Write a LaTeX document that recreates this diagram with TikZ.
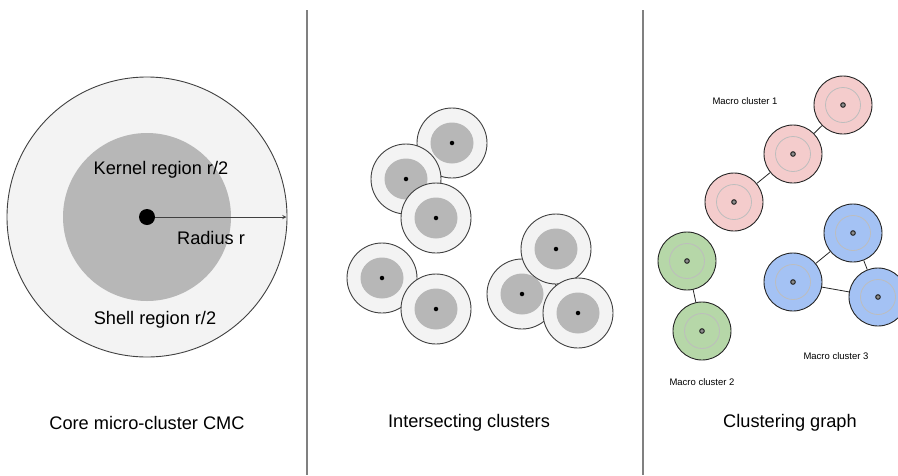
\documentclass[tikz,border=0pt]{standalone}
\usepackage{fontspec}
\setmainfont{Liberation Sans}
\usetikzlibrary{arrows,positioning,calc}

\definecolor{shellfill}{HTML}{F3F3F3}
\definecolor{kernelfill}{HTML}{B7B7B7}
\definecolor{rimline}{HTML}{404040}
\definecolor{sepline}{HTML}{808080}
\definecolor{pinkfill}{HTML}{F4CCCC}
\definecolor{greenfill}{HTML}{B6D7A8}
\definecolor{bluefill}{HTML}{A4C2F4}
\definecolor{ringgray}{HTML}{BDBDBD}

\tikzset{
  bigshell/.style={circle, draw=rimline, fill=shellfill, line width=0.9pt, minimum size=280pt, inner sep=0pt},
  bigkernel/.style={circle, fill=kernelfill, minimum size=168pt, inner sep=0pt},
  bigdot/.style={circle, fill=black, minimum size=16pt, inner sep=0pt},
  shellc/.style={circle, draw=rimline, fill=shellfill, line width=0.9pt, minimum size=70pt, inner sep=0pt},
  kdot/.style={circle, fill=black, minimum size=4.5pt, inner sep=0pt},
  macro/.style={circle, draw=black!85, line width=0.9pt, minimum size=58pt, inner sep=0pt},
  gdot/.style={circle, draw=black!90, fill=black!45, line width=0.9pt, minimum size=4.6pt, inner sep=0pt},
  bigtxt/.style={font=\fontsize{18.2}{21}\selectfont},
  smalltxt/.style={font=\fontsize{9.5}{11}\selectfont}
}

\begin{document}
\begin{tikzpicture}[x=1pt,y=-1pt]

\useasboundingbox (0,0) rectangle (898,475);

\draw[sepline, line width=1.2pt] (307,10) -- (307,475);
\draw[sepline, line width=1.2pt] (643,10) -- (643,475);

\node[bigshell] (core) at (147,217) {};
\node[bigkernel] (kernel) at (core) {};
\node[bigdot] (ctr) at (core) {};
\coordinate (rim) at (286.5,217);
\draw[rimline, line width=0.9pt, -stealth] (ctr) -- (rim);

\node[bigtxt] (kerneltxt) at (161,170) {Kernel region r/2};
\node[bigtxt] (radiustxt) at (211,238) {Radius r};
\node[bigtxt] (shelltxt) at (155,320) {Shell region r/2};

\foreach \n/\x/\y in {c1/452/143, c2/406/179, c3/436/218, c4/382/278, c5/436/309,
                      c7/522/294, c6/556/249, c8/578/313}{
  \node[shellc] (\n) at (\x,\y) {};
  \fill[kernelfill] (\n) ellipse[x radius=21.5pt, y radius=20.5pt];
  \node[kdot] at (\n) {};
}

\node[macro, fill=pinkfill] (p1) at (843,105) {};
\node[macro, fill=pinkfill] (p2) at (793,154) {};
\node[macro, fill=pinkfill] (p3) at (734,202) {};
\node[macro, fill=greenfill] (g1) at (687,261) {};
\node[macro, fill=greenfill] (g2) at (702,331) {};
\node[macro, fill=bluefill] (b1) at (853,233) {};
\node[macro, fill=bluefill] (b2) at (793,282) {};
\node[macro, fill=bluefill] (b3) at (878,297) {};

\foreach \n in {p1,p2,p3,g1,g2,b1,b2,b3}{
  \draw[ringgray, line width=0.8pt] (\n) circle[radius=17.5pt];
  \node[gdot] at (\n) {};
}

\draw[black!85, line width=0.8pt] (p1) -- (p2);
\draw[black!85, line width=0.8pt] (p2) -- (p3);
\draw[black!85, line width=0.8pt] (g1) -- (g2);
\draw[black!85, line width=0.8pt] (b1) -- (b2);
\draw[black!85, line width=0.8pt] (b2) -- (b3);
\draw[black!85, line width=0.8pt] (b1) -- (b3);

\node[smalltxt] (mc1) at (745,101) {Macro cluster 1};
\node[smalltxt] (mc2) at (702,382) {Macro cluster 2};
\node[smalltxt] (mc3) at (836,356) {Macro cluster 3};

\node[bigtxt] (cap1) at (147,423) {Core micro-cluster CMC};
\node[bigtxt] (cap2) at (469,423) {Intersecting clusters};
\node[bigtxt] (cap3) at (790,423) {Clustering graph};

\end{tikzpicture}
\end{document}
